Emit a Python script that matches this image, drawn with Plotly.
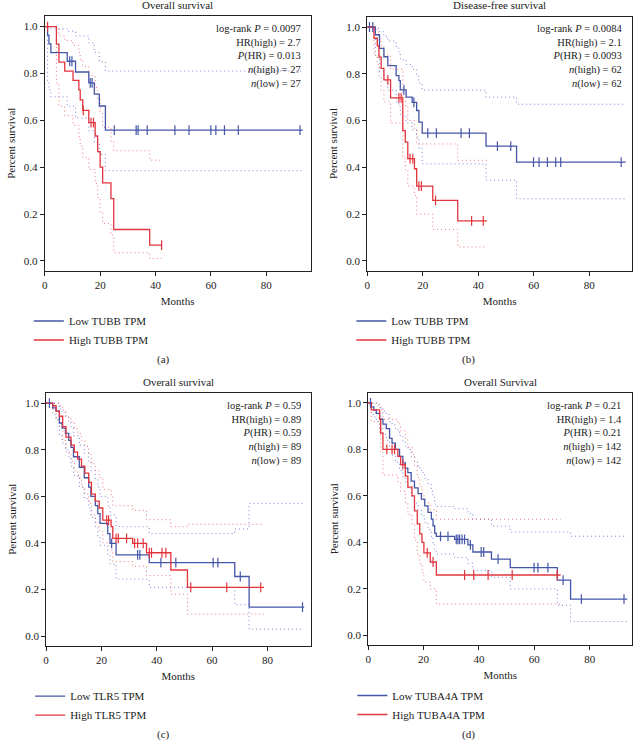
import plotly.graph_objects as go

W, H = 634, 742
BLUE = "#4556a8"
RED = "#e2343c"
BLUE_CI = "rgba(90,110,215,0.85)"
RED_CI = "rgba(240,90,100,0.85)"
FONT = "Liberation Serif"

# ---- (a) TUBB, overall survival ----
a_low_t = [0, 1.0, 1.5, 2.2, 8.1, 11.1, 15.9, 17.9, 19.7, 21.9, 93.2]
a_low_s = [1.0, 0.963, 0.926, 0.889, 0.852, 0.806, 0.760, 0.712, 0.661, 0.558, 0.558]
a_low_up = [1.0, 1.0, 0.995, 0.99, 0.98, 0.96, 0.93, 0.89, 0.85, 0.81, 0.81]
a_low_lo = [1.0, 0.76, 0.73, 0.70, 0.66, 0.61, 0.555, 0.505, 0.455, 0.385, 0.385]
a_low_ct = [9.0, 9.8, 16.4, 17.1, 25.1, 33.0, 33.7, 37.0, 47.0, 52.1, 60.0, 61.8, 64.9, 69.9, 92.2]
a_low_cs = [0.852, 0.852, 0.760, 0.760, 0.558, 0.558, 0.558, 0.558, 0.558, 0.558, 0.558, 0.558, 0.558, 0.558, 0.558]

a_high_t = [0, 4.2, 5.1, 7.2, 10.2, 12.3, 12.8, 13.7, 15.9, 18.2, 19.1, 20.0, 20.9, 23.9, 24.9, 37.9, 42.2]
a_high_s = [1.0, 0.925, 0.848, 0.81, 0.77, 0.73, 0.687, 0.642, 0.59, 0.533, 0.466, 0.40, 0.333, 0.266, 0.134, 0.067, 0.067]
a_high_up = [1.0, 0.99, 0.96, 0.94, 0.92, 0.89, 0.86, 0.83, 0.79, 0.74, 0.69, 0.63, 0.57, 0.51, 0.47, 0.43, 0.43]
a_high_lo = [1.0, 0.76, 0.66, 0.62, 0.58, 0.53, 0.49, 0.44, 0.39, 0.33, 0.27, 0.21, 0.16, 0.11, 0.035, 0.01, 0.01]
a_high_ct = [1.0, 13.9, 16.7, 17.6, 42.2]
a_high_cs = [1.0, 0.642, 0.59, 0.59, 0.067]

# ---- (b) TUBB, disease-free survival ----
b_low_t = [0, 2.9, 4.4, 6.0, 7.4, 10.4, 11.4, 11.9, 14.0, 16.2, 17.8, 18.6, 19.8, 42.8, 53.8, 93.1]
b_low_s = [1.0, 0.967, 0.909, 0.873, 0.835, 0.792, 0.771, 0.731, 0.70, 0.678, 0.643, 0.593, 0.546, 0.491, 0.422, 0.422]
b_low_up = [1.0, 0.995, 0.98, 0.96, 0.94, 0.91, 0.89, 0.86, 0.84, 0.82, 0.79, 0.76, 0.73, 0.70, 0.67, 0.67]
b_low_lo = [1.0, 0.88, 0.81, 0.77, 0.73, 0.68, 0.66, 0.62, 0.59, 0.56, 0.53, 0.48, 0.415, 0.345, 0.266, 0.266]
b_low_ct = [0.8, 2.0, 13.2, 16.8, 21.8, 24.9, 33.8, 36.8, 46.9, 51.7, 59.9, 61.9, 64.9, 67.9, 69.7, 91.5]
b_low_cs = [1.0, 1.0, 0.731, 0.678, 0.546, 0.546, 0.546, 0.546, 0.491, 0.491, 0.422, 0.422, 0.422, 0.422, 0.422, 0.422]

b_high_t = [0, 2.4, 3.6, 4.2, 5.0, 6.0, 8.4, 12.8, 13.7, 14.6, 17.0, 17.8, 23.6, 32.6, 43.1]
b_high_s = [1.0, 0.952, 0.919, 0.871, 0.823, 0.774, 0.697, 0.557, 0.508, 0.437, 0.394, 0.32, 0.259, 0.171, 0.171]
b_high_up = [1.0, 0.99, 0.98, 0.95, 0.92, 0.88, 0.82, 0.70, 0.66, 0.60, 0.56, 0.50, 0.50, 0.43, 0.43]
b_high_lo = [1.0, 0.88, 0.84, 0.79, 0.73, 0.68, 0.59, 0.44, 0.39, 0.32, 0.28, 0.20, 0.135, 0.06, 0.06]
b_high_ct = [7.4, 11.4, 12.2, 15.4, 16.4, 18.6, 19.5, 24.6, 37.6, 41.8]
b_high_cs = [0.774, 0.697, 0.697, 0.437, 0.437, 0.32, 0.32, 0.259, 0.171, 0.171]

# ---- (c) TLR5, overall survival ----
c_low_t = [0, 2.4, 3.6, 4.8, 5.8, 7.0, 8.2, 9.0, 9.9, 12.0, 13.8, 15.4, 16.2, 17.8, 18.7, 19.5, 22.3, 23.1, 25.3, 37.3, 68.2, 73.4, 93.3]
c_low_s = [1.0, 0.98, 0.966, 0.915, 0.893, 0.87, 0.84, 0.81, 0.77, 0.725, 0.68, 0.64, 0.60, 0.56, 0.526, 0.484, 0.44, 0.398, 0.349, 0.316, 0.256, 0.125, 0.125]
c_low_up = [1.0, 1.0, 1.0, 0.975, 0.96, 0.94, 0.92, 0.895, 0.86, 0.82, 0.785, 0.75, 0.71, 0.675, 0.64, 0.60, 0.56, 0.52, 0.47, 0.44, 0.46, 0.57, 0.57]
c_low_lo = [1.0, 0.95, 0.93, 0.86, 0.83, 0.80, 0.77, 0.73, 0.69, 0.64, 0.59, 0.55, 0.51, 0.47, 0.43, 0.39, 0.35, 0.31, 0.245, 0.21, 0.135, 0.03, 0.03]
c_low_ct = [1.2, 23.7, 33.1, 33.9, 41.5, 46.9, 60.4, 62.1, 70.2, 92.7]
c_low_cs = [1.0, 0.398, 0.349, 0.349, 0.316, 0.316, 0.316, 0.316, 0.256, 0.125]

c_high_t = [0, 2.4, 3.6, 4.8, 6.0, 7.2, 9.0, 10.2, 11.4, 12.8, 14.0, 15.4, 16.4, 17.8, 19.2, 20.5, 23.5, 24.1, 31.3, 36.3, 45.1, 51.1, 78.8]
c_high_s = [1.0, 0.989, 0.966, 0.944, 0.899, 0.854, 0.82, 0.79, 0.76, 0.73, 0.70, 0.66, 0.61, 0.58, 0.55, 0.498, 0.47, 0.42, 0.398, 0.358, 0.284, 0.209, 0.209]
c_high_up = [1.0, 1.0, 1.0, 0.99, 0.97, 0.94, 0.92, 0.89, 0.87, 0.84, 0.815, 0.78, 0.74, 0.71, 0.68, 0.63, 0.60, 0.56, 0.54, 0.50, 0.47, 0.48, 0.48]
c_high_lo = [1.0, 0.97, 0.93, 0.90, 0.84, 0.79, 0.75, 0.71, 0.68, 0.64, 0.61, 0.57, 0.52, 0.49, 0.45, 0.40, 0.37, 0.32, 0.30, 0.26, 0.18, 0.095, 0.095]
c_high_ct = [21.9, 22.6, 25.3, 26.1, 29.1, 32.0, 33.1, 35.1, 37.3, 38.1, 41.9, 43.3, 52.3, 65.3, 77.6]
c_high_cs = [0.498, 0.498, 0.42, 0.42, 0.42, 0.398, 0.398, 0.398, 0.358, 0.358, 0.358, 0.358, 0.209, 0.209, 0.209]

# ---- (d) TUBA4A, overall survival ----
d_low_t = [0, 1.1, 2.0, 2.9, 4.1, 5.3, 6.5, 7.7, 8.6, 9.8, 11.3, 12.5, 13.4, 14.3, 15.5, 16.7, 18.0, 19.2, 20.4, 21.6, 22.8, 23.4, 24.0, 24.6, 31.2, 36.0, 37.8, 44.5, 51.3, 68.3, 73.1, 93.6]
d_low_s = [1.0, 0.983, 0.969, 0.955, 0.93, 0.909, 0.89, 0.848, 0.827, 0.80, 0.77, 0.742, 0.72, 0.70, 0.664, 0.635, 0.61, 0.586, 0.557, 0.529, 0.50, 0.472, 0.44, 0.426, 0.413, 0.39, 0.359, 0.328, 0.292, 0.238, 0.156, 0.156]
d_low_up = [1.0, 1.0, 1.0, 0.99, 0.98, 0.965, 0.95, 0.92, 0.905, 0.885, 0.86, 0.835, 0.815, 0.80, 0.77, 0.745, 0.72, 0.70, 0.675, 0.65, 0.62, 0.595, 0.565, 0.555, 0.545, 0.525, 0.50, 0.47, 0.445, 0.445, 0.427, 0.427]
d_low_lo = [1.0, 0.95, 0.94, 0.92, 0.89, 0.865, 0.84, 0.80, 0.775, 0.745, 0.71, 0.68, 0.66, 0.635, 0.60, 0.57, 0.54, 0.515, 0.485, 0.455, 0.425, 0.395, 0.365, 0.35, 0.335, 0.31, 0.28, 0.25, 0.20, 0.13, 0.06, 0.06]
d_low_ct = [0.8, 26.1, 28.8, 31.8, 32.4, 33.0, 33.9, 34.8, 36.9, 40.8, 41.7, 46.9, 59.9, 61.3, 64.9, 70.4, 77.0, 92.4]
d_low_cs = [1.0, 0.426, 0.426, 0.413, 0.413, 0.413, 0.413, 0.413, 0.39, 0.359, 0.359, 0.328, 0.292, 0.292, 0.292, 0.238, 0.156, 0.156]

d_high_t = [0, 1.1, 4.1, 4.5, 5.3, 10.7, 11.7, 13.4, 14.3, 15.8, 16.7, 17.7, 18.6, 19.4, 20.1, 22.4, 24.6, 69.5]
d_high_s = [1.0, 0.97, 0.93, 0.87, 0.80, 0.77, 0.735, 0.685, 0.638, 0.60, 0.536, 0.48, 0.437, 0.40, 0.355, 0.316, 0.26, 0.26]
d_high_up = [1.0, 1.0, 0.995, 0.97, 0.93, 0.91, 0.88, 0.85, 0.81, 0.78, 0.73, 0.68, 0.64, 0.61, 0.57, 0.54, 0.50, 0.50]
d_high_lo = [1.0, 0.92, 0.87, 0.79, 0.69, 0.66, 0.62, 0.57, 0.52, 0.48, 0.41, 0.35, 0.31, 0.27, 0.23, 0.20, 0.135, 0.135]
d_high_ct = [6.7, 8.6, 9.5, 12.5, 21.3, 23.4, 34.8, 38.1, 43.3, 52.0, 68.3]
d_high_cs = [0.80, 0.80, 0.80, 0.735, 0.355, 0.316, 0.26, 0.26, 0.26, 0.26, 0.26]

titles = ["Overall survival", "Disease-free survival", "Overall survival", "Overall Survival"]
genes = ["TUBB", "TUBB", "TLR5", "TUBA4A"]
letters = ["(a)", "(b)", "(c)", "(d)"]
logrank_p = ["0.0097", "0.0084", "0.59", "0.21"]
hr_high = ["2.7", "2.1", "0.89", "1.4"]
p_hr = ["0.013", "0.0093", "0.59", "0.21"]
n_high = [27, 62, 89, 142]
n_low = [27, 62, 89, 142]

# pixel boxes of the four plot frames: left, right, top, bottom
boxes = [(42, 309, 16, 270.5), (366, 632, 16.5, 270.5),
         (43.3, 309, 392.7, 645.7), (367, 632.3, 392.5, 645)]
x_max = [96.0, 95.4, 95.6, 95.4]

curves = [
    (a_low_t, a_low_s, a_low_up, a_low_lo, a_low_ct, a_low_cs,
     a_high_t, a_high_s, a_high_up, a_high_lo, a_high_ct, a_high_cs),
    (b_low_t, b_low_s, b_low_up, b_low_lo, b_low_ct, b_low_cs,
     b_high_t, b_high_s, b_high_up, b_high_lo, b_high_ct, b_high_cs),
    (c_low_t, c_low_s, c_low_up, c_low_lo, c_low_ct, c_low_cs,
     c_high_t, c_high_s, c_high_up, c_high_lo, c_high_ct, c_high_cs),
    (d_low_t, d_low_s, d_low_up, d_low_lo, d_low_ct, d_low_cs,
     d_high_t, d_high_s, d_high_up, d_high_lo, d_high_ct, d_high_cs),
]

fig = go.Figure()
axis_font = dict(family=FONT, size=11, color="#222")

for i in range(4):
    k = "" if i == 0 else str(i + 1)
    xr, yr = "x" + k, "y" + k
    leg = "legend" + k
    (lt, ls, lup, llo, lct, lcs, ht, hs, hup, hlo, hct, hcs) = curves[i]

    # confidence bands (dotted)
    for t, v, c in [(lt, lup, BLUE_CI), (lt, llo, BLUE_CI), (ht, hup, RED_CI), (ht, hlo, RED_CI)]:
        fig.add_trace(go.Scatter(x=t, y=v, mode="lines", line_shape="hv", xaxis=xr, yaxis=yr,
                                 line=dict(color=c, width=1, dash="1px,3px"),
                                 showlegend=False, hoverinfo="skip"))
    # survival curves
    fig.add_trace(go.Scatter(x=lt, y=ls, mode="lines", line_shape="hv", xaxis=xr, yaxis=yr,
                             line=dict(color=BLUE, width=1.3), legend=leg,
                             name=f"Low {genes[i]} TPM"))
    fig.add_trace(go.Scatter(x=ht, y=hs, mode="lines", line_shape="hv", xaxis=xr, yaxis=yr,
                             line=dict(color=RED, width=1.3), legend=leg,
                             name=f"High {genes[i]} TPM"))
    # censor marks
    for t, v, c in [(lct, lcs, BLUE), (hct, hcs, RED)]:
        fig.add_trace(go.Scatter(x=t, y=v, mode="markers", xaxis=xr, yaxis=yr, showlegend=False,
                                 marker=dict(symbol="line-ns", size=7, line=dict(color=c, width=1.2))))

    x0, x1, y0, y1 = boxes[i]
    fig.update_layout({
        "xaxis" + k: dict(domain=[x0 / W, x1 / W], anchor=yr, range=[0, x_max[i]],
                          tickvals=[0, 20, 40, 60, 80], ticks="outside", ticklen=4,
                          tickcolor="#222", showline=True, mirror=True, linecolor="#222",
                          linewidth=1, showgrid=False, zeroline=False, tickfont=axis_font,
                          title=dict(text="Months", font=axis_font, standoff=7)),
        "yaxis" + k: dict(domain=[1 - y1 / H, 1 - y0 / H], anchor=xr, range=[-0.041, 1.045],
                          tickvals=[0, 0.2, 0.4, 0.6, 0.8, 1.0], tickformat=".1f",
                          ticks="outside", ticklen=4, tickcolor="#222", showline=True,
                          mirror=True, linecolor="#222", linewidth=1, showgrid=False,
                          zeroline=False, tickfont=axis_font,
                          title=dict(text="Percent survival", font=axis_font, standoff=6)),
        leg: dict(x=(x0 - 16) / W, xanchor="left", y=1 - (y1 + 36) / H, yanchor="top",
                  bgcolor="rgba(0,0,0,0)", font=dict(family=FONT, size=11, color="#222"),
                  tracegroupgap=0),
    })

    stats = (f"log-rank <i>P</i> = {logrank_p[i]}<br>HR(high) = {hr_high[i]}<br>"
             f"<i>P</i>(HR) = {p_hr[i]}<br><i>n</i>(high) = {n_high[i]}<br>"
             f"<i>n</i>(low) = {n_low[i]}")
    fig.add_annotation(text=stats, xref=xr + " domain", yref=yr + " domain", x=1, y=1,
                       xanchor="right", yanchor="top", xshift=-8, yshift=-5, align="right",
                       showarrow=False, font=dict(family=FONT, size=10.5, color="#222"))
    fig.add_annotation(text=titles[i], xref=xr + " domain", yref="paper", x=0.5,
                       y=1 - (y0 - 11) / H, yanchor="middle", showarrow=False,
                       font=dict(family=FONT, size=11, color="#222"))
    cx = 153 if i % 2 == 0 else 476
    fig.add_annotation(text=letters[i], xref="paper", yref="paper", x=cx / W,
                       y=1 - (y1 + 89) / H, yanchor="middle", showarrow=False,
                       font=dict(family=FONT, size=11, color="#222"))

fig.update_layout(width=W, height=H, margin=dict(l=0, r=0, t=0, b=0),
                  plot_bgcolor="white", paper_bgcolor="white",
                  font=dict(family=FONT, size=11, color="#222"))

# drop the browser's default 8px body margin so the figure fills the window exactly
fig.write_html("out.html", config={"displayModeBar": False},
               post_script="document.body.style.margin='0';document.body.style.overflow='hidden';")
